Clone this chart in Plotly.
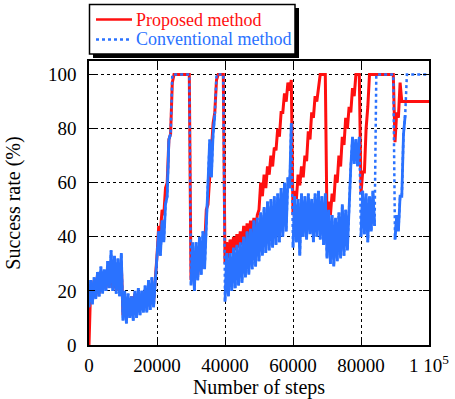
import plotly.graph_objects as go

# Success rate (%) read per 1000-step bin: (low, high) of the noisy band
prop_lo = [0, 16, 18, 19, 20, 21, 22, 21, 20, 20,
           11, 11, 12, 12, 12, 13, 13, 14, 15, 16,
           33, 42, 48, 60, 78, 100, 100, 100, 100, 100,
           24, 25, 26, 28, 36, 52, 72, 86, 100, 100,
           30, 32, 34, 35, 36, 37, 38, 39, 41, 42,
           50, 55, 58, 63, 66, 72, 77, 86, 90, 94,
           48, 54, 59, 62, 68, 76, 84, 90, 100, 100,
           45, 48, 53, 60, 66, 74, 80, 86, 92, 100,
           56, 64, 88, 100, 100, 100, 100, 100, 100, 100,
           75, 84, 90, 90, 90, 90, 90, 90, 90, 90]
prop_hi = [22, 24, 26, 27, 27, 29, 31, 30, 29, 30,
           18, 17, 18, 19, 19, 19, 20, 21, 22, 23,
           44, 50, 58, 76, 97, 100, 100, 100, 100, 100,
           31, 33, 35, 38, 50, 64, 82, 98, 100, 100,
           38, 39, 40, 41, 42, 44, 45, 46, 47, 48,
           60, 63, 66, 70, 73, 80, 86, 93, 97, 98,
           57, 63, 66, 70, 79, 86, 92, 96, 100, 100,
           53, 56, 63, 70, 77, 84, 88, 95, 100, 100,
           64, 80, 100, 100, 100, 100, 100, 100, 100, 100,
           86, 97, 90, 90, 90, 90, 90, 90, 90, 90]
prop_end = 90

conv_lo = [14, 15, 17, 18, 19, 20, 21, 20, 19, 18,
           9, 8, 10, 9, 10, 11, 12, 12, 13, 14,
           30, 33, 38, 55, 78, 100, 100, 100, 100, 100,
           22, 20, 24, 26, 28, 60, 62, 85, 100, 100,
           16, 18, 20, 21, 22, 23, 25, 26, 28, 29,
           31, 33, 34, 35, 36, 37, 38, 40, 42, 58,
           36, 38, 33, 40, 39, 41, 38, 40, 39, 37,
           32, 30, 29, 31, 32, 33, 35, 66, 67, 66,
           40, 41, 38, 42, 44, 100, 100, 100, 100, 100,
           39, 42, 55, 85, 100, 100, 100, 100, 100, 100]
conv_hi = [24, 25, 27, 29, 28, 31, 35, 33, 32, 34,
           20, 19, 18, 20, 21, 20, 22, 24, 25, 24,
           42, 46, 52, 76, 100, 100, 100, 100, 100, 100,
           38, 38, 40, 42, 44, 76, 78, 100, 100, 100,
           34, 34, 36, 37, 38, 40, 42, 43, 46, 47,
           49, 51, 53, 54, 55, 56, 58, 60, 62, 82,
           55, 54, 56, 55, 56, 54, 56, 57, 55, 56,
           50, 48, 47, 49, 52, 50, 52, 77, 76, 77,
           57, 56, 55, 57, 100, 100, 100, 100, 100, 100,
           48, 55, 78, 100, 100, 100, 100, 100, 100, 100]
conv_end = 100

series_names = ["Proposed method", "Conventional method"]
bin_size = 1000
x_tick_vals = [0, 20000, 40000, 60000, 80000, 100000]
x_tick_text = ["0", "20000", "40000", "60000", "80000", "1 10<sup>5</sup>"]
y_tick_vals = [0, 20, 40, 60, 80, 100]


def series(lo, hi, end):
    xs, ys = [], []
    for k, (a, b) in enumerate(zip(lo, hi)):
        xs += [k * bin_size, k * bin_size + bin_size / 2]
        ys += [a, b]
    xs.append(len(lo) * bin_size)
    ys.append(end)
    return xs, ys


def dense_parts(xs, ys, jump=30, top=99):
    """Same points, broken at large jumps and at the 100% plateaus,
    so the dense noisy stretches can be drawn solid."""
    ox, oy = [xs[0]], [ys[0]]
    for i in range(1, len(xs)):
        a, b = ys[i - 1], ys[i]
        if abs(b - a) > jump or a >= top or b >= top:
            ox.append(None)
            oy.append(None)
        ox.append(xs[i])
        oy.append(ys[i])
    return ox, oy


px, py = series(prop_lo, prop_hi, prop_end)
cx, cy = series(conv_lo, conv_hi, conv_end)
dx, dy = dense_parts(cx, cy)

RED = "#ff1010"
BLUE = "#2a72ff"
FONT = "Liberation Serif, 'Times New Roman', Times, 'DejaVu Serif', serif"

fig = go.Figure()
fig.add_trace(go.Scatter(
    x=px, y=py, mode="lines", name=series_names[0],
    line=dict(color=RED, width=3)))
fig.add_trace(go.Scatter(
    x=cx, y=cy, mode="lines", name=series_names[1],
    line=dict(color=BLUE, width=2.5, dash="dot")))
fig.add_trace(go.Scatter(
    x=dx, y=dy, mode="lines", showlegend=False, hoverinfo="skip",
    connectgaps=False, line=dict(color=BLUE, width=2.8)))

W, H = 455, 399
ml, mr, mt, mb = 89, 26, 61, 54
pw, ph = W - ml - mr, H - mt - mb


def paper_x(p):
    return (p - ml) / pw


def paper_y(p):
    return (H - mb - p) / ph


# hand-drawn legend box with drop shadow (as in the reference)
fig.add_shape(type="rect", xref="paper", yref="paper",
              x0=paper_x(93), x1=paper_x(299), y0=paper_y(58), y1=paper_y(8),
              fillcolor="black", line=dict(width=0), layer="above")
fig.add_shape(type="rect", xref="paper", yref="paper",
              x0=paper_x(89.5), x1=paper_x(295), y0=paper_y(54), y1=paper_y(4.5),
              fillcolor="white", line=dict(color="black", width=1.5), layer="above")
for row, (color, dash) in enumerate([(RED, "solid"), (BLUE, "dot")]):
    yy = paper_y(19.5 + 20 * row)
    fig.add_shape(type="line", xref="paper", yref="paper",
                  x0=paper_x(96), x1=paper_x(132), y0=yy, y1=yy,
                  line=dict(color=color, width=2.5, dash=dash), layer="above")
    fig.add_annotation(xref="paper", yref="paper", x=paper_x(134), y=yy,
                       xanchor="left", yanchor="middle", showarrow=False,
                       text=series_names[row],
                       font=dict(family=FONT, size=18, color=color))

axis_common = dict(
    showline=True, linecolor="black", linewidth=1.5, mirror="ticks",
    ticks="inside", ticklen=6, tickcolor="black", tickwidth=1,
    showgrid=True, gridcolor="black", gridwidth=1, griddash="dot",
    zeroline=False,
    tickfont=dict(family=FONT, size=19, color="black"),
)

fig.update_layout(
    width=W, height=H,
    margin=dict(l=ml, r=mr, t=mt, b=mb, autoexpand=False),
    paper_bgcolor="white", plot_bgcolor="white",
    font=dict(family=FONT, size=18, color="black"),
    xaxis=dict(range=[0, 100000], tickvals=x_tick_vals, ticktext=x_tick_text,
               ticklabelstandoff=2,
               title=dict(text="Number of steps", font=dict(family=FONT, size=20),
                          standoff=3),
               **axis_common),
    yaxis=dict(range=[0, 105], tickvals=y_tick_vals, ticklabelstandoff=7,
               title=dict(text="Success rate (%)", font=dict(family=FONT, size=20),
                          standoff=22),
               **axis_common),
    showlegend=False,
)

fig.write_html("out.html", config={"displayModeBar": False},
               post_script="document.body.style.margin='0';"
                           "document.body.style.padding='0';")
